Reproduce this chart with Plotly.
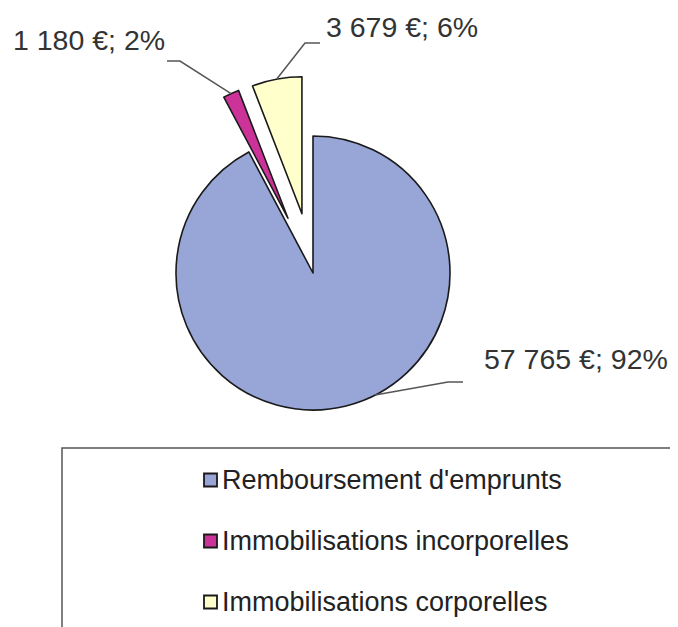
import math
import plotly.graph_objects as go

# ---- data ----
labels = ["Remboursement d'emprunts", "Immobilisations incorporelles", "Immobilisations corporelles"]
values = [57765, 1180, 3679]
pulls = [0, 0.44, 0.44]
colors = ["#97A6D6", "#CC3399", "#FFFFCC"]

# ---- layout constants ----
OFF = 8                          # page body margin
W, H = 678 - OFF, 627 - OFF
PIE_CX, PIE_CY, PIE_R = 313, 273, 137  # screen px
FONT = "Liberation Sans, Arial, sans-serif"
TXT = "#333333"

half = PIE_R * (1 + max(pulls))
fx_c, fy_c = PIE_CX - OFF, PIE_CY - OFF
DOM_X = [(fx_c - half) / W, (fx_c + half) / W]
DOM_Y = [1 - (fy_c + half) / H, 1 - (fy_c - half) / H]

fig = go.Figure(go.Pie(
    labels=labels, values=values, pull=pulls, sort=False,
    direction="clockwise", rotation=0,
    marker=dict(colors=colors, line=dict(color="#1a1a1a", width=1.6)),
    textinfo="none", hoverinfo="label+value+percent",
    domain=dict(x=DOM_X, y=DOM_Y), showlegend=False,
))

# pie geometry (same rule as plotly: r = min(box)/(2+2*maxPull))
bw = W * (DOM_X[1] - DOM_X[0])
bh = H * (DOM_Y[1] - DOM_Y[0])
R = min(bw, bh) / (2 + 2 * max(pulls))
cx = W * (DOM_X[0] + DOM_X[1]) / 2
cy = H * (1 - DOM_Y[0]) - bh / 2
total = sum(values)

def fig2paper(x, y):
    return x / W, 1 - y / H

def scr2paper(x, y):
    return fig2paper(x - OFF, y - OFF)

# label layout in screen px: (attach-angle offset deg, elbow, end, text anchor, xanchor)
label_layout = [
    (-13, (448, 382), (463, 382), (482, 359), "left"),
    (0, (180, 61), (167, 61), (167, 40), "right"),
    (0, (305, 43), (320, 43), (324, 27), "left"),
]

cum = 0
for i, v in enumerate(values):
    mid = (cum + v / 2) / total * 360
    cum += v
    ang = math.radians(mid + label_layout[i][0])
    mrad = math.radians(mid)
    pcx = cx + pulls[i] * R * math.sin(mrad)
    pcy = cy - pulls[i] * R * math.cos(mrad)
    sx = pcx + R * math.sin(ang)
    sy = pcy - R * math.cos(ang)
    (ex, ey), (fx, fy), (tx, ty), xa = label_layout[i][1:]
    p0 = fig2paper(sx, sy); p1 = scr2paper(ex, ey); p2 = scr2paper(fx, fy)
    fig.add_shape(type="path", xref="paper", yref="paper",
                  path=f"M {p0[0]} {p0[1]} L {p1[0]} {p1[1]} L {p2[0]} {p2[1]}",
                  line=dict(color="#555555", width=1.5))
    pct = round(v / total * 100)
    txt = f"{v:,}".replace(",", " ") + f" €; {pct}%"
    ax, ay = scr2paper(tx, ty)
    fig.add_annotation(x=ax, y=ay, xref="paper", yref="paper", text=txt,
                       showarrow=False, xanchor=xa, yanchor="middle",
                       font=dict(family=FONT, size=28.5, color=TXT))

# legend box (extends beyond the picture, as in the original)
b0 = scr2paper(62, 448); b1 = scr2paper(730, 670)
fig.add_shape(type="rect", xref="paper", yref="paper",
              x0=b0[0], y0=b1[1], x1=b1[0], y1=b0[1],
              line=dict(color="#555555", width=1.5), fillcolor="rgba(0,0,0,0)")

# legend entries
LEG_X, LEG_Y0, LEG_DY, SQ = 204, 480, 61, 13
for i, lab in enumerate(labels):
    yc = LEG_Y0 + i * LEG_DY
    a = scr2paper(LEG_X, yc - SQ / 2); b = scr2paper(LEG_X + SQ, yc + SQ / 2)
    fig.add_shape(type="rect", xref="paper", yref="paper",
                  x0=a[0], x1=b[0], y0=b[1], y1=a[1],
                  fillcolor=colors[i], line=dict(color="#1a1a1a", width=1.8))
    t = scr2paper(LEG_X + SQ + 3, yc)
    fig.add_annotation(x=t[0], y=t[1], xref="paper", yref="paper", text=lab,
                       showarrow=False, xanchor="left", yanchor="middle",
                       font=dict(family=FONT, size=27, color="#222222"))

fig.update_layout(
    width=W, height=H, margin=dict(l=0, r=0, t=0, b=0),
    paper_bgcolor="white", plot_bgcolor="white",
)
fig.write_html("out.html")
